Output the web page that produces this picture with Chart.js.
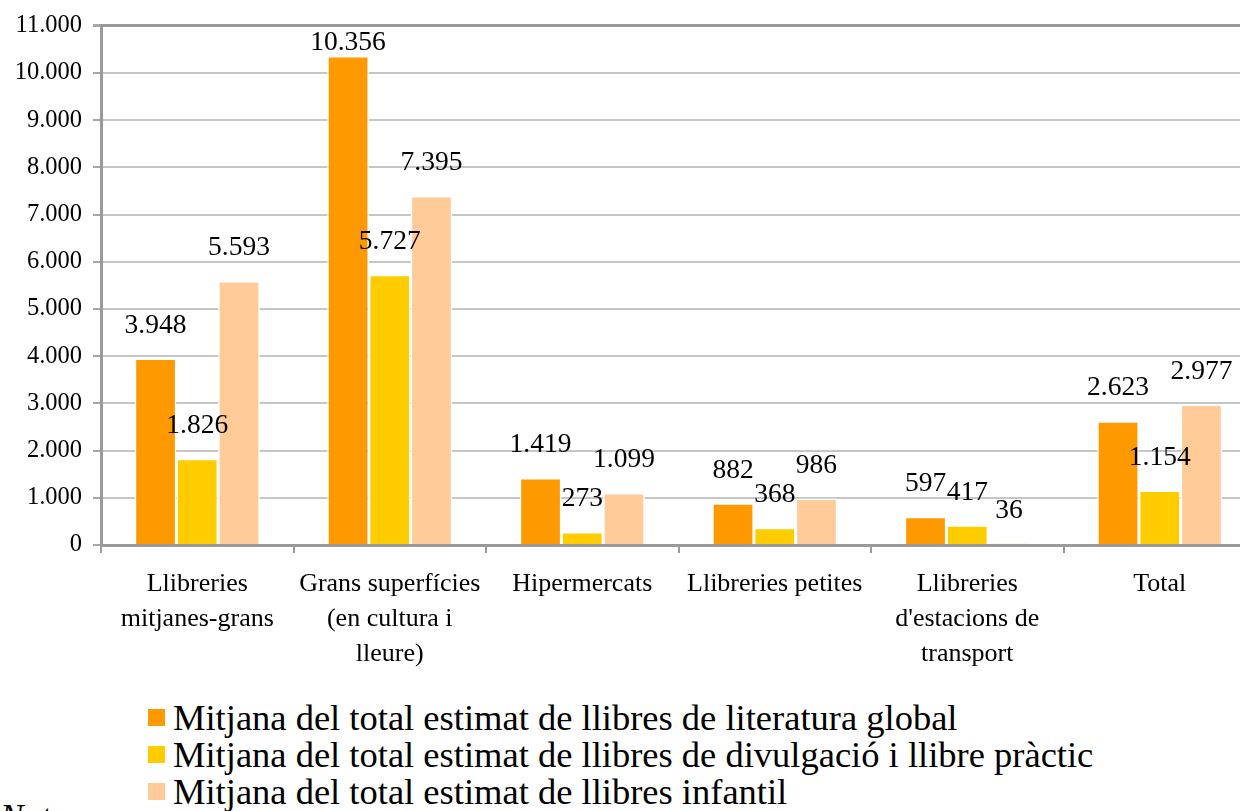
<!DOCTYPE html>
<html>
<head>
<meta charset="utf-8">
<script src="https://cdn.jsdelivr.net/npm/chart.js@4/dist/chart.umd.min.js"></script>
<style>
  html, body { margin: 0; padding: 0; background: #fff; }
  body { width: 1240px; height: 811px; overflow: hidden; position: relative; font-family: "Liberation Serif", serif; }
  #wrap { position: absolute; left: 0; top: 0; width: 1256px; height: 680px; }
  #legend { position: absolute; left: 148px; top: 699px; font-size: 36.5px; line-height: 37px; color: #000; }
  .li { display: flex; align-items: center; white-space: nowrap; }
  .sw { width: 17px; height: 17px; margin-right: 8px; flex: none; }
  #nota { position: absolute; left: 0px; top: 799px; font-size: 35px; font-style: italic; line-height: 37px; }
</style>
</head>
<body>
<div id="wrap"><canvas id="c" width="1256" height="680"></canvas></div>
<div id="legend"></div>
<div id="nota">Nota</div>
<script>
const categories = [
  ["Llibreries", "mitjanes-grans"],
  ["Grans superfícies", "(en cultura i", "lleure)"],
  ["Hipermercats"],
  ["Llibreries petites"],
  ["Llibreries", "d'estacions de", "transport"],
  ["Total"]
];
const seriesNames = [
  "Mitjana del total estimat de llibres de literatura global",
  "Mitjana del total estimat de llibres de divulgació i llibre pràctic",
  "Mitjana del total estimat de llibres infantil"
];
const literatura = [3948, 10356, 1419, 882, 597, 2623];
const divulgacio = [1826, 5727, 273, 368, 417, 1154];
const infantil = [5593, 7395, 1099, 986, 36, 2977];
const yTicks = [0, 1000, 2000, 3000, 4000, 5000, 6000, 7000, 8000, 9000, 10000, 11000];

const colors = ["#FF9900", "#FFCC00", "#FFCC99"];
const fmt = n => String(n).replace(/\B(?=(\d{3})+(?!\d))/g, ".");

Chart.defaults.font.family = "Liberation Serif";
Chart.defaults.font.size = 24;
Chart.defaults.color = "#000";

const valueLabels = {
  id: "valueLabels",
  afterDatasetsDraw(chart) {
    const ctx = chart.ctx;
    ctx.save();
    ctx.font = "27.5px 'Liberation Serif'";
    ctx.fillStyle = "#000";
    ctx.textAlign = "center";
    ctx.textBaseline = "middle";
    chart.data.datasets.forEach((ds, i) => {
      const meta = chart.getDatasetMeta(i);
      meta.data.forEach((bar, j) => {
        let y = bar.y - 33;
        y = Math.max(y, chart.chartArea.top + 17);
        ctx.fillText(fmt(ds.data[j]), bar.x, y);
      });
    });
    ctx.restore();
  }
};

const chart = new Chart(document.getElementById("c"), {
  type: "bar",
  data: {
    labels: categories,
    datasets: [
      { label: seriesNames[0], data: literatura, backgroundColor: colors[0] },
      { label: seriesNames[1], data: divulgacio, backgroundColor: colors[1] },
      { label: seriesNames[2], data: infantil, backgroundColor: colors[2] }
    ]
  },
  options: {
    responsive: false,
    animation: false,
    layout: { padding: { top: 23, left: 0, right: 0, bottom: 0 } },
    datasets: {
      bar: {
        categoryPercentage: 0.65,
        barPercentage: 1.0,
        borderColor: "#ffffff",
        borderWidth: 1.5
      }
    },
    plugins: {
      legend: { display: false },
      tooltip: { enabled: false }
    },
    scales: {
      x: {
        grid: {
          display: true,
          offset: true,
          drawOnChartArea: false,
          drawTicks: true,
          tickLength: 8,
          tickColor: "#9a9a9a",
          lineWidth: 2
        },
        border: { display: true, color: "#9a9a9a", width: 3 },
        ticks: {
          color: "#000",
          padding: 14,
          maxRotation: 0,
          autoSkip: false,
          font: { size: 26, lineHeight: 35 / 26 }
        },
        afterFit(scale) { scale.height = 135; }
      },
      y: {
        min: 0,
        max: 11000,
        afterBuildTicks(scale) { scale.ticks = yTicks.map(v => ({ value: v })); },
        grid: {
          color: c => (c.tick && c.tick.value === 11000) ? "#9a9a9a" : "#c6c6c6",
          lineWidth: c => (c.tick && c.tick.value === 11000) ? 3 : 2,
          tickLength: 8,
          tickColor: "#a6a6a6"
        },
        border: { display: true, color: "#9a9a9a", width: 3 },
        ticks: {
          color: "#000",
          padding: 11,
          font: { size: 24.5 },
          callback: v => fmt(v)
        },
        afterFit(scale) { scale.width = 101; }
      }
    }
  },
  plugins: [valueLabels]
});

const legend = document.getElementById("legend");
chart.data.datasets.forEach(ds => {
  const row = document.createElement("div");
  row.className = "li";
  const sw = document.createElement("span");
  sw.className = "sw";
  sw.style.background = ds.backgroundColor;
  const t = document.createElement("span");
  t.textContent = ds.label;
  row.appendChild(sw);
  row.appendChild(t);
  legend.appendChild(row);
});
</script>
</body>
</html>
